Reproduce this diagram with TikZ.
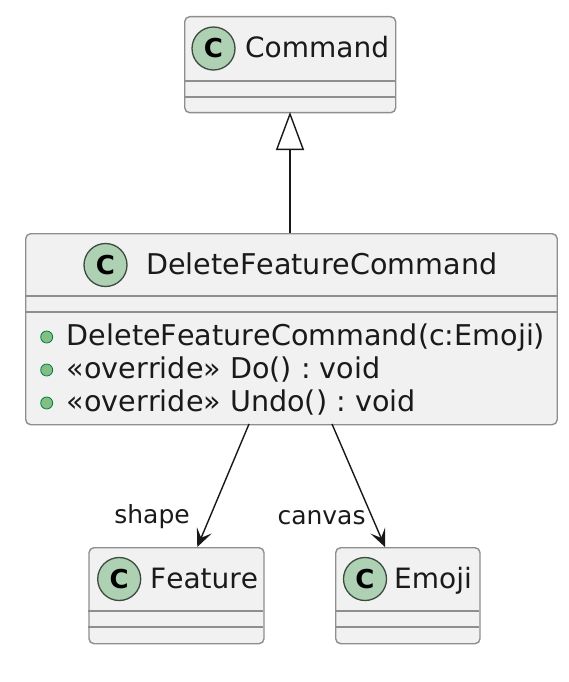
\documentclass[tikz,border=0pt]{standalone}
\usepackage{fontspec}
\setmainfont[Kerning=Off]{DejaVu Sans}
\usetikzlibrary{arrows.meta}
\definecolor{boxfill}{HTML}{F1F1F1}
\definecolor{boxline}{HTML}{8E8E8E}
\definecolor{circfill}{HTML}{ADD1B2}
\definecolor{circline}{HTML}{3E4A40}
\definecolor{dotfill}{HTML}{84BE84}
\definecolor{dotline}{HTML}{038048}
\definecolor{ink}{HTML}{181818}
\definecolor{txt}{HTML}{1A1A1A}
\tikzset{
  classbox/.style={draw=boxline, fill=boxfill, line width=1.4pt, rounded corners=5pt,
    rectangle, inner sep=0pt, anchor=north west},
  divider/.style={draw=boxline, line width=1.4pt},
  classcirc/.style={circle, draw=circline, fill=circfill, line width=1.3pt,
    minimum size=43pt, inner sep=0pt, font=\fontsize{26}{26}\selectfont\bfseries, text=black},
  classname/.style={anchor=base west, inner sep=0pt, font=\fontsize{28}{33}\selectfont, text=txt},
  longname/.style={anchor=base west, inner sep=0pt, font=\fontsize{28.6}{33}\selectfont, text=txt},
  member/.style={anchor=base west, inner sep=0pt, font=\fontsize{28.6}{33}\selectfont\frenchspacing, text=txt},
  pubdot/.style={circle, draw=dotline, fill=dotfill, line width=0.8pt, minimum size=12pt, inner sep=0pt},
  rolelabel/.style={inner sep=0pt, font=\fontsize{25}{30}\selectfont, text=txt},
  assoc/.style={draw=ink, line width=1.4pt, -{Stealth[length=18pt,width=16pt,inset=8pt]}},
  inherit/.style={draw=ink, line width=1.4pt, -{Triangle[open,length=38pt,width=28pt,fill=white]}},
}
\begin{document}
\begin{tikzpicture}[x=1pt,y=-1pt]
\useasboundingbox (0,0) rectangle (568,682);
% Command
\node[classbox, minimum width=211pt, minimum height=96pt] (cmd) at (184,16) {};
\draw[divider] (184,81) -- (395,81);
\draw[divider] (184,97) -- (395,97);
\node[classcirc] (cmdC) at (213.5,48.5) {C};
\node[classname] (cmdN) at (245,57.5) {Command};
% DeleteFeatureCommand
\node[classbox, minimum width=531.5pt, minimum height=191pt] (dfc) at (25,233) {};
\draw[divider] (25,296) -- (556.5,296);
\draw[divider] (25,312) -- (556.5,312);
\node[classcirc] (dfcC) at (105.5,265) {C};
\node[longname] (dfcN) at (146,274) {DeleteFeatureCommand};
\node[pubdot] (d1) at (46.7,337) {};
\node[pubdot] (d2) at (46.7,370) {};
\node[pubdot] (d3) at (46.7,403) {};
\node[member] (m1) at (66.7,345) {DeleteFeatureCommand(c:Emoji)};
\node[member] (m2) at (66.7,378) {«override» Do() : void};
\node[member] (m3) at (66.7,411) {«override» Undo() : void};
% Feature
\node[classbox, minimum width=175pt, minimum height=96pt] (feat) at (88.3,547) {};
\draw[divider] (88.3,611) -- (263.3,611);
\draw[divider] (88.3,627) -- (263.3,627);
\node[classcirc] (featC) at (119.2,579) {C};
\node[classname] (featN) at (150,588) {Feature};
% Emoji
\node[classbox, minimum width=144.3pt, minimum height=96pt] (emoji) at (335,547) {};
\draw[divider] (335,611) -- (479.3,611);
\draw[divider] (335,627) -- (479.3,627);
\node[classcirc] (emojiC) at (365,579) {C};
\node[classname] (emojiN) at (394,588) {Emoji};
% connectors
\coordinate (inhA) at (290,233);
\coordinate (inhB) at (290,112);
\draw[inherit] (inhA) -- (inhB);
\coordinate (sA) at (249,424);
\coordinate (sB) at (197.3,547);
\draw[assoc] (sA) -- (sB);
\coordinate (cA) at (332,424);
\coordinate (cB) at (385,547);
\draw[assoc] (cA) -- (cB);
\node[rolelabel, anchor=base east] (lshape) at (190,523.5) {shape};
\node[rolelabel, anchor=base west] (lcanvas) at (277.3,524) {canvas};
\end{tikzpicture}
\end{document}
